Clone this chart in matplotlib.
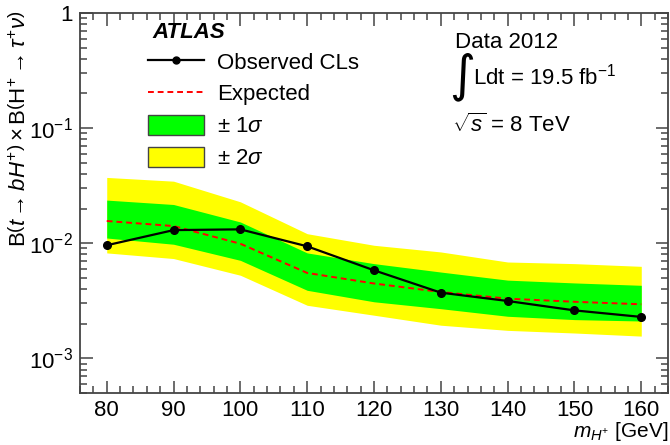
import matplotlib
matplotlib.use("Agg")
import matplotlib.pyplot as plt
from matplotlib.lines import Line2D
from matplotlib.patches import Patch
from matplotlib.ticker import MultipleLocator, LogLocator, FixedLocator, FixedFormatter, NullFormatter

plt.rcParams["font.family"] = ["Liberation Sans", "DejaVu Sans"]
plt.rcParams["mathtext.fontset"] = "custom"
plt.rcParams["mathtext.rm"] = "Liberation Sans"
plt.rcParams["mathtext.it"] = "Liberation Sans:italic"
plt.rcParams["mathtext.bf"] = "Liberation Sans:bold"

# charged Higgs mass points [GeV]
mass = [80, 90, 100, 110, 120, 130, 140, 150, 160]

# 95% CL upper limits on B(t->bH+) x B(H+->tau nu)
observed = [0.0096, 0.0130, 0.0132, 0.0094, 0.00582, 0.00372, 0.00315, 0.00261, 0.00229]
expected = [0.0156, 0.0141, 0.0099, 0.00552, 0.00447, 0.00377, 0.0033, 0.0031, 0.00295]
sig1_up = [0.0237, 0.0217, 0.0153, 0.00824, 0.00665, 0.00562, 0.00478, 0.00452, 0.00431]
sig1_dn = [0.0111, 0.0098, 0.0071, 0.0039, 0.0031, 0.0027, 0.00232, 0.00217, 0.00211]
sig2_up = [0.0373, 0.0346, 0.0229, 0.0121, 0.0096, 0.0084, 0.00687, 0.00665, 0.0063]
sig2_dn = [0.00824, 0.00736, 0.00527, 0.00289, 0.00237, 0.00194, 0.00175, 0.00166, 0.00156]

W, H = 670, 445
FS = 16

fig = plt.figure(figsize=(W / 100, H / 100), dpi=100)
ax = fig.add_axes([80 / W, 1 - 393 / H, 588 / W, 380 / H])

ax.fill_between(mass, sig2_dn, sig2_up, color="#ffff00", lw=0)
ax.fill_between(mass, sig1_dn, sig1_up, color="#00ff00", lw=0)
ax.plot(mass, expected, color="red", ls=(0, (3, 2)), lw=1.4)
ax.plot(mass, observed, color="black", lw=1.6, marker="o", ms=5.5)

ax.set_yscale("log")
ax.set_xlim(76, 164)
ax.set_ylim(5e-4, 1)

# ROOT-style ticks: inside, on all four sides
ax.xaxis.set_major_locator(MultipleLocator(10))
ax.xaxis.set_minor_locator(MultipleLocator(2))
ax.yaxis.set_major_locator(FixedLocator([1e-3, 1e-2, 1e-1, 1]))
ax.yaxis.set_major_formatter(FixedFormatter(["$10^{-3}$", "$10^{-2}$", "$10^{-1}$", "1"]))
ax.yaxis.set_minor_locator(LogLocator(base=10, subs=range(2, 10)))
ax.yaxis.set_minor_formatter(NullFormatter())
ax.tick_params(which="both", direction="in", top=True, right=True, labelsize=FS,
               color="#444444", width=1.1)
ax.tick_params(which="major", length=9, pad=5)
ax.tick_params(which="minor", length=5)
ax.tick_params(axis="x", which="major", pad=5)
for s in ax.spines.values():
    s.set_color("#444444")
    s.set_linewidth(1.3)

# axis titles placed ROOT-like: x title flush right, y title flush top
fig.text(668 / W, 1 - 437 / H, r"$m_{H^{+}}$ [GeV]", fontsize=15, ha="right", va="baseline")
fig.text(20 / W, 1 - 10 / H,
         r"B$\left(t\rightarrow bH^{+}\right)\times$B$\left(\mathrm{H}^{+}\rightarrow\tau^{+}\nu\right)$",
         rotation=90, ha="center", va="top", fontsize=FS)

handles = [
    Line2D([], [], color="black", lw=1.6, marker="o", ms=5),
    Line2D([], [], color="red", ls=(0, (3, 2)), lw=1.4),
    Patch(facecolor="#00ff00", edgecolor="#444444", lw=1),
    Patch(facecolor="#ffff00", edgecolor="#444444", lw=1),
]
labels = ["Observed CLs", "Expected", r"$\pm$ 1$\sigma$", r"$\pm$ 2$\sigma$"]
ax.legend(handles, labels, loc="upper left", bbox_to_anchor=(68 / 588, 1 - 38 / 380),
          frameon=False, fontsize=FS, borderpad=0, borderaxespad=0,
          handlelength=2.5, handleheight=1.0, handletextpad=0.6, labelspacing=0.42)

fig.text(152 / W, 1 - 33 / H, "ATLAS", fontsize=FS, fontweight="bold",
         style="italic", va="center")

fig.text(455 / W, 1 - 48 / H, "Data 2012", fontsize=FS, va="baseline")
fig.text(449 / W, 1 - 77 / H, "\u222b", fontsize=36, va="center", family="DejaVu Sans")
fig.text(473 / W, 1 - 85 / H, r"Ldt = 19.5 fb$^{-1}$", fontsize=FS, va="baseline")
fig.text(452 / W, 1 - 132 / H, r"$\sqrt{s}$ = 8 TeV", fontsize=FS, va="baseline")

fig.savefig("out.png", dpi=100)
